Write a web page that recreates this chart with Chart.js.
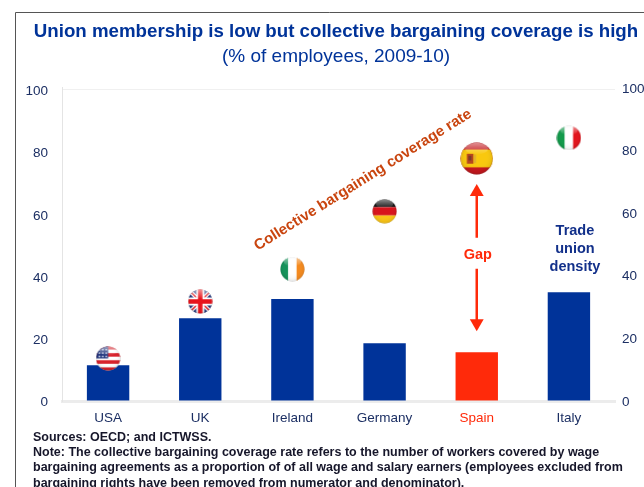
<!DOCTYPE html>
<html><head><meta charset="utf-8">
<script src="https://cdn.jsdelivr.net/npm/chart.js@4"></script>
<style>html,body{margin:0;padding:0;background:#fff}#w{position:relative;width:644px;height:487px;overflow:hidden}canvas{display:block}</style>
</head><body><div id="w"><canvas id="c" width="644" height="487"></canvas></div>
<script>
const categories = ['USA','UK','Ireland','Germany','Spain','Italy'];
const unionDensity = [11.5,26.6,32.8,18.6,15.7,35];
const bargainingCoverage = [13.7,32,42.4,61,78,84.6];
const gapUpper = [67.2,52.5];
const gapLower = [42.5,25];
const yTicks = [0,20,40,60,80,100];
const titleText = 'Union membership is low but collective bargaining coverage is high';
const subtitleText = '(% of employees, 2009-10)';
const footerLines = ['Sources: OECD; and ICTWSS.',
 'Note: The collective bargaining coverage rate refers to the number of workers covered by wage',
 'bargaining agreements as a proportion of of all wage and salary earners (employees excluded from',
 'bargaining rights have been removed from numerator and denominator).'];

const NAVY='#1c2f63', BLUE='#003399', RED='#ff2a0a', ORANGE='#c9450f';

function flag(d, paint){
  const c=document.createElement('canvas'); c.width=c.height=d;
  const g=c.getContext('2d'), r=d/2;
  g.save(); g.beginPath(); g.arc(r,r,r-0.5,0,Math.PI*2); g.clip();
  g.fillStyle='#fff'; g.fillRect(0,0,d,d);
  paint(g,d); 
  const s=g.createRadialGradient(r,r*0.8,r*0.55,r,r,r);
  s.addColorStop(0,'rgba(255,255,255,0)'); s.addColorStop(0.8,'rgba(0,0,0,0.06)'); s.addColorStop(1,'rgba(0,0,0,0.3)');
  g.fillStyle=s; g.fillRect(0,0,d,d);
  const t=g.createLinearGradient(0,0,0,d*0.4);
  t.addColorStop(0,'rgba(255,255,255,0.55)'); t.addColorStop(1,'rgba(255,255,255,0)');
  g.fillStyle=t; g.beginPath(); g.ellipse(r,d*0.2,r*0.7,d*0.18,0,0,Math.PI*2); g.fill();
  g.restore();
  return c;
}
const flags=[
 flag(25,(g,d)=>{for(let i=0;i<7;i++){g.fillStyle=i%2?'#fff':'#d8202a';g.fillRect(0,i*d/7,d,d/7+0.5);}
   g.fillStyle='#24387f';g.fillRect(0,0,d*0.5,d*0.5);
   g.fillStyle='#dfe6f5';for(let i=0;i<3;i++)for(let j=0;j<3;j++)g.fillRect(3+i*3.4,3+j*3.4,1.5,1.5);}),
 flag(25,(g,d)=>{g.fillStyle='#fff';g.fillRect(0,0,d,d);
   g.fillStyle='#24387f';[[0,0],[d*0.62,0],[0,d*0.62],[d*0.62,d*0.62]].forEach(p=>g.fillRect(p[0],p[1],d*0.38,d*0.38));
   g.strokeStyle='#fff';g.lineWidth=4;g.beginPath();g.moveTo(0,0);g.lineTo(d,d);g.moveTo(d,0);g.lineTo(0,d);g.stroke();
   g.strokeStyle='#e1202a';g.lineWidth=1.5;g.stroke();
   g.fillStyle='#fff';g.fillRect(d*0.34,0,d*0.32,d);g.fillRect(0,d*0.34,d,d*0.32);
   g.fillStyle='#e8141c';g.fillRect(d*0.41,0,d*0.18,d);g.fillRect(0,d*0.41,d,d*0.18);}),
 flag(25,(g,d)=>{g.fillStyle='#14925a';g.fillRect(0,0,d/3,d);g.fillStyle='#fff';g.fillRect(d/3,0,d/3,d);g.fillStyle='#f58a1e';g.fillRect(2*d/3,0,d/3,d);}),
 flag(25,(g,d)=>{g.fillStyle='#111';g.fillRect(0,0,d,d/3);g.fillStyle='#d8141c';g.fillRect(0,d/3,d,d/3);g.fillStyle='#fbc515';g.fillRect(0,2*d/3,d,d/3);}),
 flag(33,(g,d)=>{g.fillStyle='#c4161c';g.fillRect(0,0,d,d);g.fillStyle='#f9c80e';g.fillRect(0,d*0.23,d,d*0.54);
   g.fillStyle='#b5461e';g.fillRect(d*0.2,d*0.36,d*0.2,d*0.3);g.fillStyle='#e0b030';g.fillRect(d*0.42,d*0.38,d*0.06,d*0.26);g.fillStyle='#7a3a2a';g.fillRect(d*0.25,d*0.42,d*0.09,d*0.14);}),
 flag(25,(g,d)=>{g.fillStyle='#119a4a';g.fillRect(0,0,d/3,d);g.fillStyle='#fff';g.fillRect(d/3,0,d/3,d);g.fillStyle='#e3141c';g.fillRect(2*d/3,0,d/3,d);})
];

const decor={
  id:'decor',
  afterDraw(chart){
    const g=chart.ctx, x=chart.scales.x, y=chart.scales.y;
    g.save();
    // frame
    g.strokeStyle='#555'; g.lineWidth=1; g.beginPath(); g.moveTo(15.5,487); g.lineTo(15.5,12.5); g.lineTo(644,12.5); g.stroke();
    // titles
    g.textAlign='center'; g.textBaseline='middle';
    g.fillStyle=BLUE; g.font='bold 18.7px "Liberation Sans"'; g.fillText(titleText,336,32);
    g.font='19px "Liberation Sans"'; g.fillText(subtitleText,336,57);
    // annotations tied to scales
    g.fillStyle=RED; g.font='bold 14.5px "Liberation Sans"'; g.fillText('Gap',x.getPixelForValue(4)+1,y.getPixelForValue(47));
    g.fillStyle='#12308a'; g.font='bold 14.5px "Liberation Sans"';
    const tx=x.getPixelForValue(5)+6;
    ['Trade','union','density'].forEach((t,i)=>g.fillText(t,tx,231+i*18));
    g.save(); g.translate(363,180); g.rotate(-32*Math.PI/180);
    g.fillStyle=ORANGE; g.font='bold 15px "Liberation Sans"'; g.fillText('Collective bargaining coverage rate',0,0); g.restore();
    // footer
    g.textAlign='left'; g.fillStyle='#16162a'; g.font='bold 12.5px "Liberation Sans"';
    [438,453,468,484].forEach((py,i)=>g.fillText(footerLines[i],33,py));
    g.restore();
  }
};

new Chart(document.getElementById('c'),{
  data:{labels:categories,datasets:[
    {type:'line',data:gapUpper.map(v=>({x:'Spain',y:v})),borderColor:RED,borderWidth:2.5,backgroundColor:RED,
     pointStyle:['triangle',false],pointRadius:[8,0],pointBorderWidth:0,order:1},
    {type:'line',data:gapLower.map(v=>({x:'Spain',y:v})),borderColor:RED,borderWidth:2.5,backgroundColor:RED,
     pointStyle:[false,'triangle'],pointRadius:[0,8],pointRotation:[0,180],pointBorderWidth:0,order:1},
    {type:'line',data:bargainingCoverage,showLine:false,pointStyle:flags,pointRadius:12,order:0},
    {type:'bar',data:unionDensity,backgroundColor:categories.map(c=>c==='Spain'?RED:BLUE),barPercentage:1,categoryPercentage:0.46,order:2}
  ]},
  plugins:[decor],
  options:{
    responsive:false,animation:false,
    layout:{padding:{top:87,left:0,right:0,bottom:0}},
    plugins:{legend:{display:false},tooltip:{enabled:false},title:{display:false}},
    scales:{
      x:{offset:true,grid:{display:false,drawTicks:false},border:{color:'#ececec',width:3},
         ticks:{padding:9,color:c=>categories[c.index]==='Spain'?RED:NAVY,font:{family:'Liberation Sans',size:13.5}},
         afterFit(s){s.height=86;}},
      y:{position:'left',min:0,max:100.96,grid:{drawTicks:false,color:c=>c.tick.value===100?'#f0f0f0':'transparent'},border:{color:'#e4e4e4',width:1},
         afterBuildTicks(s){s.ticks=yTicks.map(v=>({value:v}));},
         ticks:{padding:14,labelOffset:1.5,color:NAVY,font:{family:'Liberation Sans',size:13.5}},
         afterFit(s){s.width=62;}},
      y2:{position:'right',min:0,max:100.3,grid:{display:false,drawTicks:false},border:{display:false},
         afterBuildTicks(s){s.ticks=yTicks.map(v=>({value:v}));},
         ticks:{padding:7,labelOffset:1,color:NAVY,font:{family:'Liberation Sans',size:13.5}},
         afterFit(s){s.width=29;}}
    }
  }
});
</script></body></html>
